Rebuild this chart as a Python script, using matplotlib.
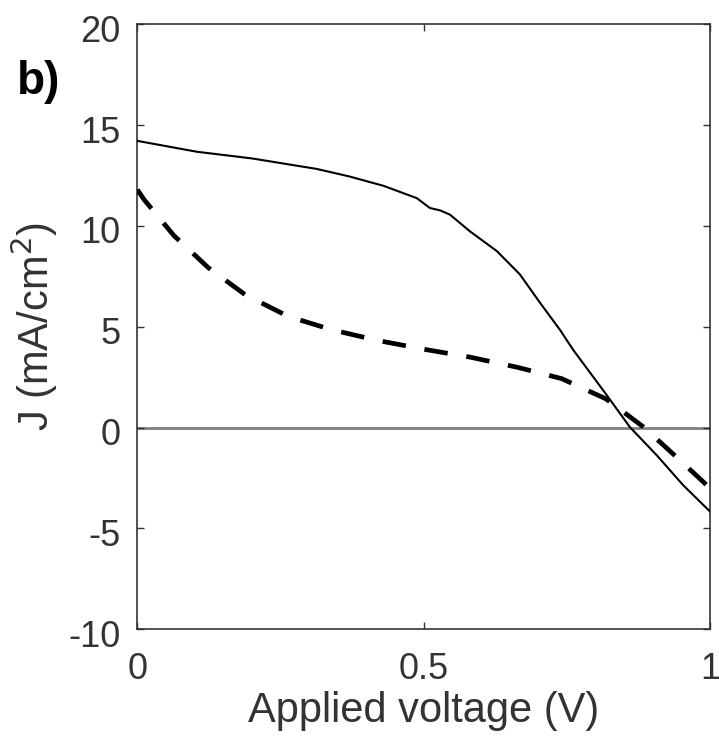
import matplotlib
matplotlib.use("Agg")
import matplotlib.pyplot as plt
import matplotlib.transforms as mtransforms

plt.rcParams['font.family'] = ['Liberation Sans', 'DejaVu Sans']
plt.rcParams['axes.unicode_minus'] = False

# Solid curve (J-V)
v_solid = [0.0, 0.104, 0.2, 0.313, 0.371, 0.43, 0.488, 0.511, 0.529, 0.546, 0.581, 0.628,
           0.668, 0.703, 0.738, 0.761, 0.82, 0.86, 0.907, 0.953, 1.0]
j_solid = [14.22, 13.68, 13.35, 12.83, 12.45, 11.99, 11.38, 10.89, 10.77, 10.56, 9.73, 8.75,
           7.6, 6.2, 4.85, 3.86, 1.6, 0.03, -1.37, -2.85, -4.16]

# Dashed curve (J-V)
v_dash = [0.0, 0.012, 0.064, 0.124, 0.189, 0.264, 0.34, 0.42, 0.502, 0.582, 0.664,
          0.741, 0.818, 0.884, 0.945, 1.0]
j_dash = [11.8, 11.3, 9.52, 7.93, 6.58, 5.51, 4.85, 4.32, 3.88, 3.49, 2.99,
          2.43, 1.43, 0.03, -1.55, -3.0]

x_ticks = [0, 0.5, 1]
x_ticklabels = ['0', '0.5', '1']
y_ticks = [-10, -5, 0, 5, 10, 15, 20]

fig = plt.figure(figsize=(7.19, 7.52), dpi=100)
ax = fig.add_axes([137.3/719, 1 - 629.3/752, (710-137.3)/719, (629.3-24.3)/752])

axcol = '#333333'
ax.axhline(0, color='#808080', lw=2.0, zorder=1)
ax.plot(v_solid, j_solid, color='black', lw=1.5, zorder=3)
ax.plot(v_dash, j_dash, color='black', lw=3.4, dashes=(5.0, 4.0), zorder=3)

ax.set_xlim(0, 1)
ax.set_ylim(-10, 20)
ax.set_xticks(x_ticks)
ax.set_xticklabels(x_ticklabels)
ax.set_yticks(y_ticks)
for s in ax.spines.values():
    s.set_color(axcol)
    s.set_linewidth(1.2)
ax.tick_params(direction='in', length=5, width=1.0, colors=axcol, labelsize=26,
               top=True, right=True)
ax.tick_params(axis='y', pad=12)
ax.tick_params(axis='x', pad=16)
off = mtransforms.ScaledTranslation(0, -4/100, fig.dpi_scale_trans)
for lbl in ax.get_yticklabels():
    lbl.set_transform(lbl.get_transform() + off)
ax.set_xlabel('Applied voltage (V)', fontsize=30, color=axcol, labelpad=3)
ax.set_ylabel('J (mA/cm$^2$)', fontsize=30, color=axcol, labelpad=6)

fig.text(17/719, 1 - 82/752, 'b)', fontsize=33, fontweight='bold', color='black',
         va='center', ha='left')

fig.savefig('out.png', dpi=100)
